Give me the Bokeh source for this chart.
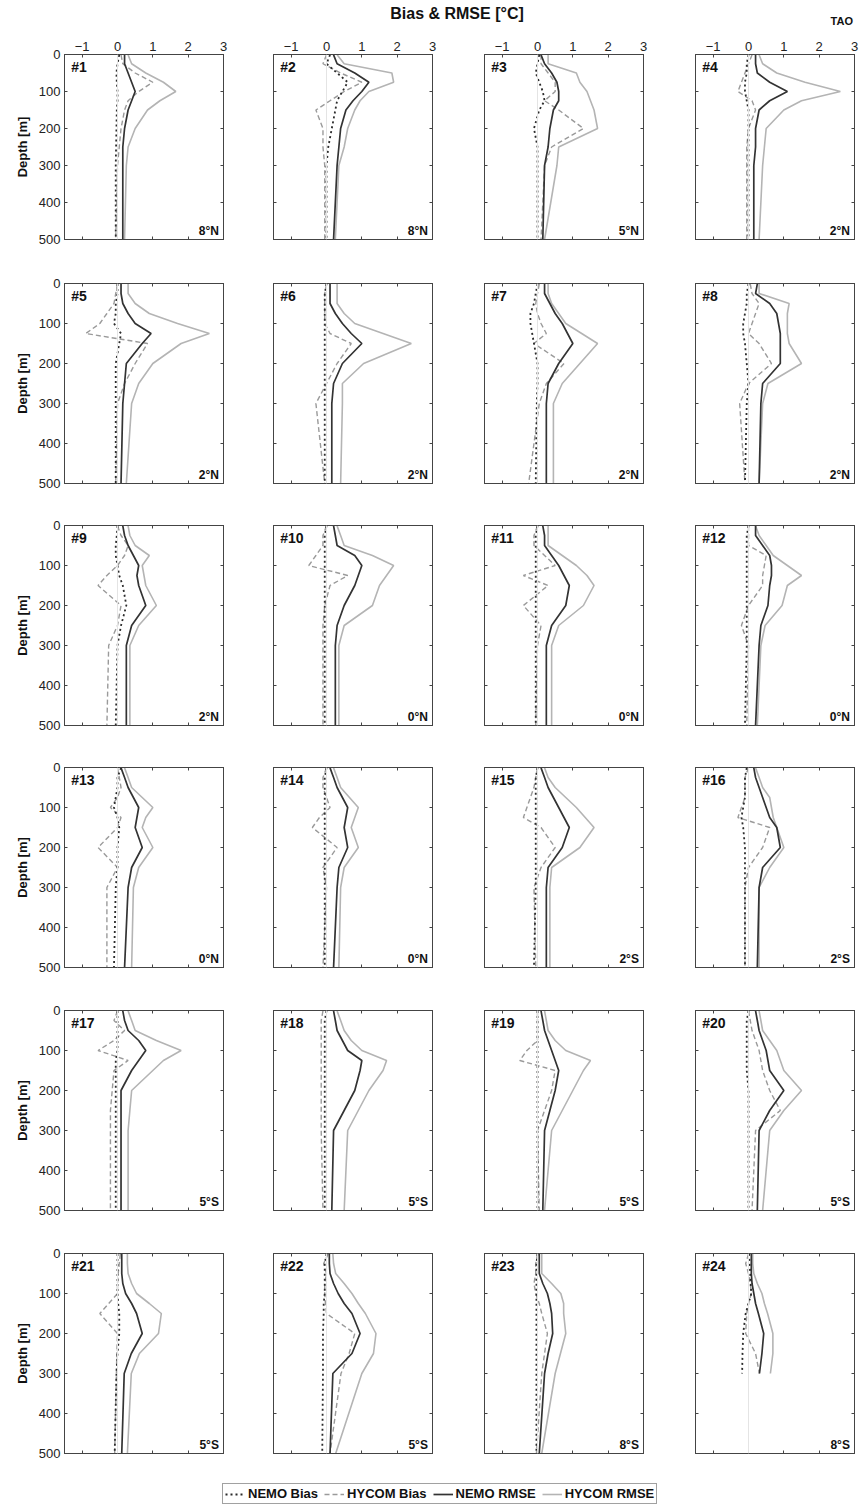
from bokeh.plotting import figure
from bokeh.models import (Range1d, LinearAxis, FixedTicker, CustomJSTickFormatter,
                          Label, Span, Legend, LegendItem, Div)
from bokeh.layouts import column, row
from bokeh.embed import file_html
from bokeh.resources import INLINE

nan = float("nan")

# ---------------- data ----------------
DEPTH = [1, 25, 50, 75, 100, 125, 150, 200, 250, 300, 500]
LATS = ["8°N", "8°N", "5°N", "2°N", "2°N", "2°N", "2°N", "2°N",
        "2°N", "0°N", "0°N", "0°N", "0°N", "0°N", "2°S", "2°S",
        "5°S", "5°S", "5°S", "5°S", "5°S", "5°S", "8°S", "8°S"]
X_TICKS = [-1, 0, 1, 2, 3]
Y_TICKS = [0, 100, 200, 300, 400, 500]
SERIES = ["NEMO Bias", "HYCOM Bias", "NEMO RMSE", "HYCOM RMSE"]

NEMO_BIAS = [
    [0.05, 0.0, -0.03, -0.02, 0.0, 0.0, -0.02, -0.03, -0.04, -0.05, -0.05],
    [0.1, 0.0, 0.3, 0.6, 0.45, 0.3, 0.25, 0.15, 0.05, 0.0, 0.0],
    [0.05, 0.0, -0.05, 0.05, 0.15, 0.2, 0.05, -0.1, 0.0, 0.0, 0.0],
    [0.0, -0.05, -0.05, -0.1, -0.1, -0.05, 0.0, 0.0, 0.0, 0.0, 0.0],
    [0.0, 0.0, -0.05, -0.05, -0.1, 0.1, 0.05, -0.05, -0.05, -0.05, -0.05],
    [0.0, -0.05, -0.05, -0.05, -0.05, -0.05, -0.05, -0.05, -0.05, -0.05, -0.05],
    [0.0, -0.05, -0.1, -0.2, -0.2, -0.15, -0.1, 0.0, 0.0, -0.02, -0.05],
    [0.0, -0.05, -0.05, -0.1, -0.15, -0.15, -0.1, -0.05, 0.0, -0.05, -0.1],
    [0.0, -0.02, -0.05, -0.05, 0.0, 0.05, 0.15, 0.25, 0.1, 0.0, -0.05],
    [0.0, -0.05, -0.05, -0.05, -0.05, -0.05, -0.05, -0.05, -0.05, -0.05, -0.05],
    [0.0, -0.05, -0.05, -0.05, -0.05, -0.05, -0.05, -0.05, -0.05, -0.05, -0.05],
    [0.0, -0.05, -0.05, -0.05, -0.05, -0.05, -0.05, -0.05, -0.05, -0.05, -0.1],
    [0.1, 0.0, 0.0, -0.05, -0.1, 0.0, 0.05, 0.0, 0.0, -0.05, -0.1],
    [0.0, -0.05, -0.05, -0.05, -0.05, -0.05, -0.05, -0.05, -0.05, -0.05, -0.05],
    [0.0, -0.05, -0.05, -0.05, -0.05, -0.05, -0.05, -0.05, -0.05, -0.05, -0.1],
    [-0.05, -0.1, -0.1, -0.1, -0.15, -0.2, -0.15, -0.1, -0.1, -0.1, -0.1],
    [0.0, 0.0, 0.0, 0.0, 0.0, -0.05, -0.05, -0.05, -0.05, -0.05, -0.05],
    [0.0, -0.05, -0.05, -0.05, -0.05, -0.05, -0.05, -0.05, -0.05, -0.05, -0.05],
    [0.0, 0.0, 0.0, 0.0, 0.0, 0.0, 0.0, 0.0, 0.0, 0.0, 0.0],
    [0.0, -0.05, -0.05, -0.05, -0.05, -0.05, -0.05, 0.0, 0.0, 0.0, 0.0],
    [0.0, 0.0, 0.0, 0.0, 0.0, 0.02, 0.05, 0.05, 0.0, -0.03, -0.08],
    [0.0, -0.05, -0.05, -0.05, -0.05, -0.08, -0.08, -0.1, -0.1, -0.1, -0.12],
    [0.0, -0.03, -0.03, -0.03, -0.03, -0.03, -0.03, -0.03, -0.03, -0.03, -0.03],
    [0.02, 0.03, 0.05, 0.06, 0.08, 0.0, -0.08, -0.15, -0.17, -0.18, nan],
]

HYCOM_BIAS = [
    [0.1, 0.15, 0.5, 1.0, 0.6, 0.3, 0.2, 0.1, 0.05, 0.0, -0.05],
    [0.0, -0.1, 0.4, 1.0, 0.5, 0.1, -0.3, -0.1, -0.1, -0.05, -0.05],
    [0.1, 0.1, 0.3, 0.5, 0.5, 0.2, 0.6, 1.3, 0.4, 0.2, 0.1],
    [0.1, 0.0, -0.1, -0.2, -0.3, 0.1, 0.2, 0.0, -0.05, -0.05, -0.05],
    [0.0, -0.05, -0.1, -0.3, -0.5, -0.9, 0.85, 0.5, 0.2, 0.0, -0.05],
    [0.0, -0.05, -0.05, -0.05, -0.05, 0.1, 0.7, 0.3, 0.0, -0.3, -0.05],
    [0.05, 0.0, -0.05, 0.0, 0.1, 0.25, -0.1, 0.75, 0.25, 0.05, -0.25],
    [0.05, 0.1, 0.3, 0.2, 0.1, 0.0, 0.3, 0.65, 0.0, -0.25, -0.1],
    [0.0, 0.1, 0.3, 0.2, 0.0, -0.3, -0.55, 0.1, 0.0, -0.25, -0.3],
    [0.0, -0.1, -0.1, -0.3, -0.5, 0.6, 0.1, -0.05, -0.1, -0.1, -0.1],
    [0.0, -0.1, -0.1, 0.2, 0.5, -0.4, 0.3, -0.4, 0.1, 0.0, -0.05],
    [0.0, 0.0, 0.0, 0.5, 0.45, 0.4, 0.4, 0.0, -0.2, 0.0, -0.05],
    [0.0, 0.05, 0.1, 0.0, -0.2, 0.1, 0.0, -0.55, 0.0, -0.3, -0.3],
    [0.0, -0.1, -0.1, 0.0, 0.1, -0.2, -0.4, 0.3, -0.1, 0.0, -0.1],
    [0.0, -0.05, -0.1, -0.2, -0.3, -0.4, 0.1, 0.5, 0.1, -0.1, -0.05],
    [0.0, -0.1, -0.1, -0.1, -0.2, -0.3, 0.6, 0.4, 0.0, -0.1, -0.1],
    [0.0, -0.1, 0.2, -0.1, -0.55, 0.3, -0.1, -0.15, -0.2, -0.2, -0.2],
    [-0.1, -0.15, -0.15, -0.15, -0.15, -0.15, -0.15, -0.15, -0.15, -0.15, -0.1],
    [0.0, 0.0, 0.0, 0.0, -0.3, -0.5, 0.5, 0.4, 0.2, 0.0, 0.05],
    [0.0, 0.05, 0.1, 0.2, 0.3, 0.35, 0.4, 0.6, 0.9, 0.2, 0.1],
    [0.08, 0.05, 0.02, 0.0, 0.0, -0.25, -0.5, 0.0, -0.02, -0.03, -0.08],
    [0.05, -0.08, 0.0, -0.05, -0.05, -0.03, 0.0, 0.8, 0.64, 0.41, 0.1],
    [0.0, -0.05, -0.05, -0.1, -0.05, 0.05, 0.12, 0.28, 0.2, 0.12, -0.03],
    [0.0, -0.08, 0.0, 0.05, 0.08, 0.0, -0.05, -0.08, 0.2, 0.31, nan],
]

NEMO_RMSE = [
    [0.2, 0.2, 0.3, 0.4, 0.5, 0.4, 0.3, 0.2, 0.15, 0.15, 0.15],
    [0.2, 0.3, 0.8, 1.2, 1.0, 0.75, 0.55, 0.4, 0.35, 0.3, 0.2],
    [0.1, 0.2, 0.4, 0.55, 0.6, 0.6, 0.45, 0.35, 0.3, 0.2, 0.15],
    [0.2, 0.2, 0.25, 0.6, 1.1, 0.6, 0.3, 0.2, 0.2, 0.15, 0.15],
    [0.1, 0.1, 0.15, 0.3, 0.5, 0.95, 0.7, 0.25, 0.2, 0.15, 0.1],
    [0.1, 0.1, 0.1, 0.25, 0.45, 0.7, 1.0, 0.45, 0.2, 0.15, 0.15],
    [0.2, 0.2, 0.35, 0.5, 0.7, 0.85, 1.0, 0.6, 0.3, 0.25, 0.25],
    [0.25, 0.2, 0.6, 0.8, 0.85, 0.9, 0.9, 0.9, 0.4, 0.35, 0.3],
    [0.15, 0.2, 0.3, 0.45, 0.6, 0.55, 0.6, 0.8, 0.4, 0.25, 0.25],
    [0.2, 0.25, 0.3, 0.8, 1.0, 0.9, 0.8, 0.5, 0.3, 0.25, 0.25],
    [0.15, 0.2, 0.2, 0.4, 0.6, 0.75, 0.9, 0.8, 0.4, 0.25, 0.25],
    [0.2, 0.2, 0.4, 0.6, 0.65, 0.65, 0.6, 0.55, 0.35, 0.3, 0.2],
    [0.1, 0.2, 0.3, 0.45, 0.6, 0.55, 0.5, 0.7, 0.4, 0.3, 0.2],
    [0.1, 0.2, 0.3, 0.45, 0.6, 0.55, 0.5, 0.6, 0.35, 0.3, 0.2],
    [0.1, 0.2, 0.3, 0.45, 0.6, 0.75, 0.9, 0.7, 0.3, 0.25, 0.25],
    [0.15, 0.2, 0.3, 0.4, 0.5, 0.6, 0.8, 0.9, 0.4, 0.3, 0.25],
    [0.15, 0.2, 0.3, 0.6, 0.8, 0.6, 0.4, 0.1, 0.1, 0.1, 0.1],
    [0.2, 0.25, 0.3, 0.45, 0.6, 1.0, 0.95, 0.8, 0.5, 0.2, 0.15],
    [0.1, 0.15, 0.2, 0.3, 0.4, 0.5, 0.6, 0.5, 0.35, 0.2, 0.15],
    [0.2, 0.25, 0.3, 0.4, 0.5, 0.55, 0.6, 1.0, 0.6, 0.3, 0.25],
    [0.12, 0.12, 0.12, 0.15, 0.23, 0.4, 0.54, 0.7, 0.39, 0.19, 0.12],
    [0.08, 0.08, 0.1, 0.2, 0.33, 0.5, 0.72, 0.95, 0.72, 0.18, 0.1],
    [0.05, 0.05, 0.05, 0.15, 0.28, 0.35, 0.4, 0.43, 0.3, 0.2, 0.05],
    [0.08, 0.08, 0.08, 0.1, 0.15, 0.2, 0.28, 0.43, 0.38, 0.31, nan],
]

HYCOM_RMSE = [
    [0.3, 0.4, 0.8, 1.3, 1.65, 1.2, 0.85, 0.5, 0.3, 0.25, 0.2],
    [0.3, 0.5, 1.85, 1.9, 1.2, 0.95, 0.8, 0.6, 0.5, 0.35, 0.25],
    [0.3, 0.3, 1.1, 1.2, 1.4, 1.5, 1.6, 1.7, 0.6, 0.55, 0.2],
    [0.3, 0.4, 0.8, 1.6, 2.6, 1.5, 1.0, 0.5, 0.45, 0.4, 0.3],
    [0.3, 0.3, 0.5, 0.9, 1.7, 2.6, 1.8, 1.0, 0.6, 0.4, 0.25],
    [0.3, 0.3, 0.3, 0.5, 0.8, 1.6, 2.4, 1.05, 0.45, 0.45, 0.4],
    [0.3, 0.3, 0.4, 0.6, 0.8, 1.25, 1.7, 1.2, 0.7, 0.45, 0.45],
    [0.3, 0.3, 1.15, 1.1, 1.1, 1.1, 1.15, 1.5, 0.55, 0.4, 0.3],
    [0.3, 0.35, 0.5, 0.9, 0.7, 0.75, 0.8, 1.1, 0.6, 0.35, 0.35],
    [0.3, 0.4, 0.5, 1.3, 1.9, 1.7, 1.5, 1.3, 0.5, 0.35, 0.35],
    [0.3, 0.3, 0.3, 0.7, 1.1, 1.4, 1.6, 1.3, 0.6, 0.4, 0.4],
    [0.2, 0.3, 0.5, 0.7, 1.1, 1.5, 1.1, 0.95, 0.47, 0.35, 0.25],
    [0.2, 0.3, 0.4, 0.7, 1.0, 0.8, 0.7, 1.0, 0.6, 0.45, 0.4],
    [0.2, 0.3, 0.4, 0.65, 0.9, 0.8, 0.7, 0.9, 0.5, 0.4, 0.35],
    [0.2, 0.3, 0.5, 0.8, 1.1, 1.35, 1.6, 1.2, 0.4, 0.35, 0.35],
    [0.2, 0.3, 0.4, 0.6, 0.65, 0.7, 0.8, 1.0, 0.6, 0.3, 0.3],
    [0.3, 0.4, 0.5, 1.1, 1.8, 1.3, 1.0, 0.4, 0.35, 0.3, 0.3],
    [0.3, 0.4, 0.5, 0.7, 1.0, 1.7, 1.6, 1.2, 0.9, 0.6, 0.5],
    [0.2, 0.25, 0.3, 0.5, 0.8, 1.5, 1.3, 1.0, 0.7, 0.4, 0.2],
    [0.3, 0.35, 0.4, 0.6, 0.8, 0.9, 1.0, 1.5, 1.0, 0.6, 0.4],
    [0.28, 0.28, 0.3, 0.4, 0.54, 0.9, 1.24, 1.16, 0.62, 0.39, 0.28],
    [0.18, 0.2, 0.26, 0.5, 0.72, 0.9, 1.1, 1.4, 1.33, 1.0, 0.26],
    [0.12, 0.12, 0.12, 0.4, 0.66, 0.74, 0.74, 0.8, 0.65, 0.5, 0.12],
    [0.12, 0.12, 0.15, 0.25, 0.38, 0.45, 0.54, 0.69, 0.69, 0.62, nan],
]

# ---------------- style ----------------
FONT = "Liberation Sans"
AX = "#444444"
STYLES = {
    "NEMO Bias": dict(line_color="#2b2b2b", line_width=1.8, line_dash="2 3"),
    "HYCOM Bias": dict(line_color="#9a9a9a", line_width=1.4, line_dash="5 3"),
    "NEMO RMSE": dict(line_color="#333333", line_width=1.7),
    "HYCOM RMSE": dict(line_color="#b4b4b4", line_width=1.6),
}

FRAME_W = 159
COL_BORDERS = [(64, 24), (26, 26), (26, 26), (26, 6)]
ROW_SPECS = [  # (top border, frame height, bottom border)
    (24, 185, 23), (21, 200, 21), (21, 200, 21),
    (21, 200, 22), (21, 200, 21), (22, 200, 22),
]
HEADER_H = 30
LEGEND_H = 31


def blank():
    return CustomJSTickFormatter(code="return ''")


def add_axis(p, side, labeled):
    ticks = X_TICKS if side in ("above", "below") else Y_TICKS
    ax = LinearAxis(ticker=FixedTicker(ticks=ticks))
    ax.major_tick_in = 3
    ax.major_tick_out = 0
    ax.minor_tick_in = 0
    ax.minor_tick_out = 0
    ax.axis_line_color = AX
    ax.axis_line_width = 1
    ax.major_tick_line_color = AX
    if labeled:
        ax.major_label_text_font = FONT
        ax.major_label_text_font_size = "13px"
        ax.major_label_text_color = "#222222"
        ax.major_label_standoff = 4
        if side == "left":
            ax.axis_label = "Depth [m]"
            ax.axis_label_text_font = FONT
            ax.axis_label_text_font_size = "13px"
            ax.axis_label_text_font_style = "bold"
            ax.axis_label_text_color = "#111111"
            ax.axis_label_standoff = 6
    else:
        ax.formatter = blank()
        ax.major_label_standoff = 0
        ax.major_label_text_font_size = "1px"
    p.add_layout(ax, side)


def make_panel(i):
    r, c = divmod(i, 4)
    bl, br = COL_BORDERS[c]
    bt, fh, bb = ROW_SPECS[r]
    p = figure(width=bl + FRAME_W + br, height=bt + fh + bb,
               x_range=Range1d(-1.5, 3), y_range=Range1d(500, 0),
               x_axis_location=None, y_axis_location=None,
               toolbar_location=None, output_backend="svg",
               min_border_left=bl, min_border_right=br,
               min_border_top=bt, min_border_bottom=bb,
               background_fill_color="white", border_fill_color="white")
    p.outline_line_color = AX
    p.outline_line_width = 1
    p.grid.visible = False
    add_axis(p, "above", r == 0)
    add_axis(p, "below", False)
    add_axis(p, "left", c == 0)
    add_axis(p, "right", False)

    p.add_layout(Span(location=0, dimension="height", line_color="#e4e4e4", line_width=1))

    data = {"NEMO Bias": NEMO_BIAS[i], "HYCOM Bias": HYCOM_BIAS[i],
            "NEMO RMSE": NEMO_RMSE[i], "HYCOM RMSE": HYCOM_RMSE[i]}
    for name in ["HYCOM RMSE", "HYCOM Bias", "NEMO RMSE", "NEMO Bias"]:
        p.line(data[name], DEPTH, **STYLES[name])

    p.add_layout(Label(x=-1.31, y=12, text=f"#{i + 1}", text_font=FONT,
                       text_font_size="14px", text_font_style="bold",
                       text_color="#111111", text_baseline="top", text_align="left"))
    p.add_layout(Label(x=2.87, y=496, text=LATS[i], text_font=FONT,
                       text_font_size="12px", text_font_style="bold",
                       text_color="#111111", text_baseline="bottom", text_align="right"))
    return p


panels = [make_panel(i) for i in range(24)]
rows = [row(*panels[r * 4:(r + 1) * 4]) for r in range(6)]

TOTAL_W = sum(a + FRAME_W + b for a, b in COL_BORDERS)

header = Div(
    text=('<div style="position:relative;width:%dpx;height:%dpx;'
          'font-family:\'Liberation Sans\',Arial,sans-serif;font-weight:bold;color:#111;">'
          '<span style="position:absolute;left:457px;top:6px;transform:translateX(-50%%);'
          'font-size:16px;line-height:16px;white-space:nowrap;">Bias &amp; RMSE [°C]</span>'
          '<span style="position:absolute;right:7px;top:16px;font-size:11px;'
          'line-height:11px;">TAO</span></div>') % (TOTAL_W, HEADER_H),
    width=TOTAL_W, height=HEADER_H, margin=(0, 0, 0, 0))

# legend strip (proxy lines lie outside its visible range; only the legend shows)
lp = figure(width=TOTAL_W, height=LEGEND_H, x_range=Range1d(10, 11), y_range=Range1d(10, 11),
            x_axis_location=None, y_axis_location=None, toolbar_location=None,
            output_backend="svg", min_border=0, outline_line_color=None)
lp.grid.visible = False
proxy = {"NEMO Bias": NEMO_BIAS[0], "HYCOM Bias": HYCOM_BIAS[0],
         "NEMO RMSE": NEMO_RMSE[0], "HYCOM RMSE": HYCOM_RMSE[0]}
items = []
for name in SERIES:
    rr = lp.line(proxy[name], DEPTH, **STYLES[name])
    items.append(LegendItem(label=name, renderers=[rr]))
leg = Legend(items=items, orientation="horizontal", location=(222, 2),
             label_text_font=FONT, label_text_font_size="13px",
             label_text_font_style="bold", label_text_color="#111111",
             glyph_width=20, glyph_height=10, label_standoff=3, spacing=6,
             padding=2, margin=0, border_line_color=AX, border_line_width=1,
             background_fill_alpha=1)
lp.add_layout(leg)

layout = column(header, *rows, lp)

open("out.html", "w").write(file_html(layout, INLINE))
